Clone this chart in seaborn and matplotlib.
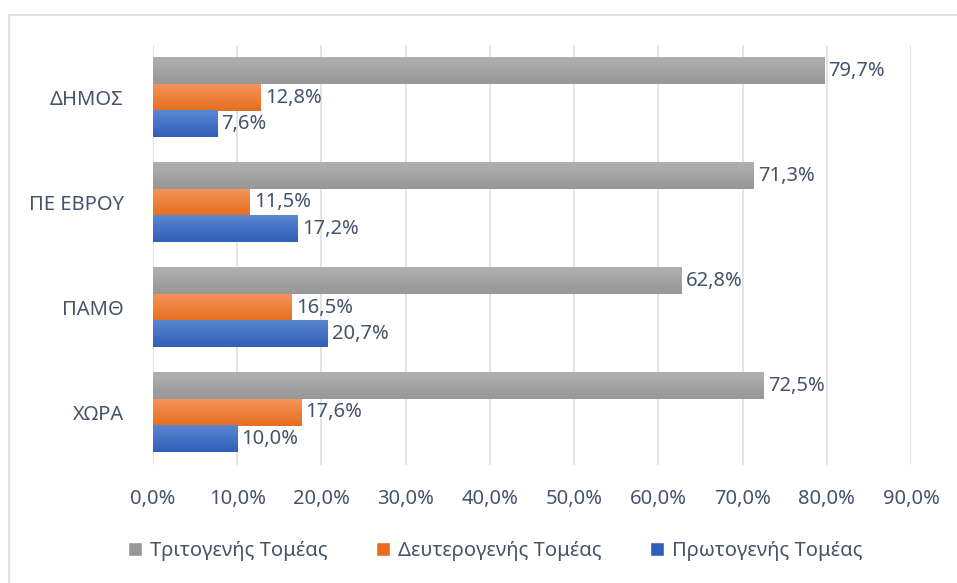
import numpy as np
import pandas as pd
import matplotlib
matplotlib.use('Agg')
import matplotlib.pyplot as plt
import seaborn as sns
from matplotlib.patches import Rectangle
from matplotlib.colors import LinearSegmentedColormap

# Data
categories = ['ΔΗΜΟΣ', 'ΠΕ ΕΒΡΟΥ', 'ΠΑΜΘ', 'ΧΩΡΑ']
sectors = ['Τριτογενής Τομέας', 'Δευτερογενής Τομέας', 'Πρωτογενής Τομέας']
tertiary = [79.7, 71.3, 62.8, 72.5]
secondary = [12.8, 11.5, 16.5, 17.6]
primary = [7.6, 17.2, 20.7, 10.0]
x_ticks = [0, 10, 20, 30, 40, 50, 60, 70, 80, 90]

# (top colour, bottom colour) for the gradient fill
colors = {
    'Τριτογενής Τομέας': ('#B0B0B0', '#979797'),
    'Δευτερογενής Τομέας': ('#F4945A', '#E56E1E'),
    'Πρωτογενής Τομέας': ('#5B86D0', '#2F5FB8'),
}
TEXT = '#44546A'
FS = 14.5

df = pd.DataFrame({
    'category': np.repeat(categories, 3),
    'sector': sectors * len(categories),
    'value': np.ravel(np.column_stack([tertiary, secondary, primary])),
})

sns.set_theme(style='white')
plt.rcParams['font.family'] = ['Noto Sans', 'DejaVu Sans']

fig = plt.figure(figsize=(9.57, 5.83), dpi=100)
ax = fig.add_axes([153 / 957, 1 - 465 / 583, (911 - 153) / 957, (465 - 45) / 583])

palette = {k: v[1] for k, v in colors.items()}
sns.barplot(data=df, x='value', y='category', hue='sector', order=categories,
            hue_order=sectors, palette=palette, orient='h', width=0.76,
            dodge=True, ax=ax, legend=True)

ax.set_xlim(0, 90)
ax.set_ylim(3.5, -0.5)
ax.set_xticks(x_ticks)
ax.set_xticklabels([f'{t:.1f}%'.replace('.', ',') for t in x_ticks],
                   color=TEXT, fontsize=FS)
ax.tick_params(axis='x', length=0, pad=17)
ax.tick_params(axis='y', length=0, pad=21, labelsize=FS, labelcolor=TEXT)
ax.set_xlabel('')
ax.set_ylabel('')
for s in ax.spines.values():
    s.set_visible(False)
ax.grid(axis='x', color='#DDE2E9', linewidth=1.3)
ax.set_axisbelow(True)

# gradient fill for each bar + value labels
for container, sector in zip(ax.containers, sectors):
    top, bottom = colors[sector]
    cmap = LinearSegmentedColormap.from_list(sector, [top, bottom])
    grad = np.linspace(0, 1, 64).reshape(-1, 1)
    for bar in container:
        x0, y0 = bar.get_x(), bar.get_y()
        w, h = bar.get_width(), bar.get_height()
        bar.set_facecolor('none')
        bar.set_edgecolor('none')
        ax.imshow(grad, cmap=cmap, aspect='auto', extent=(x0, x0 + w, y0 + h, y0),
                  zorder=2, interpolation='bilinear')
    ax.bar_label(container, labels=[f'{v:.1f}%'.replace('.', ',') for v in container.datavalues],
                 padding=3, color=TEXT, fontsize=FS)
ax.set_xlim(0, 90)
ax.set_ylim(3.5, -0.5)

# legend at bottom
handles, labels = ax.get_legend_handles_labels()
ax.legend_.remove()
for hnd, sector in zip(handles, sectors):
    hnd.set_facecolor(colors[sector][1])
leg = fig.legend(handles, labels, loc='center', bbox_to_anchor=(495 / 957, 1 - 551 / 583),
                 ncol=3, frameon=False, fontsize=FS, handlelength=0.7, handleheight=0.7,
                 columnspacing=2.4, handletextpad=0.4)
for t in leg.get_texts():
    t.set_color(TEXT)

# chart area border
fig.patches.append(Rectangle((9 / 957, -0.05), 1.0, 1 - 15 / 583 + 0.05,
                             transform=fig.transFigure, fill=False,
                             edgecolor='#DDE2E9', linewidth=1.5))

fig.savefig('out.png', dpi=100)
